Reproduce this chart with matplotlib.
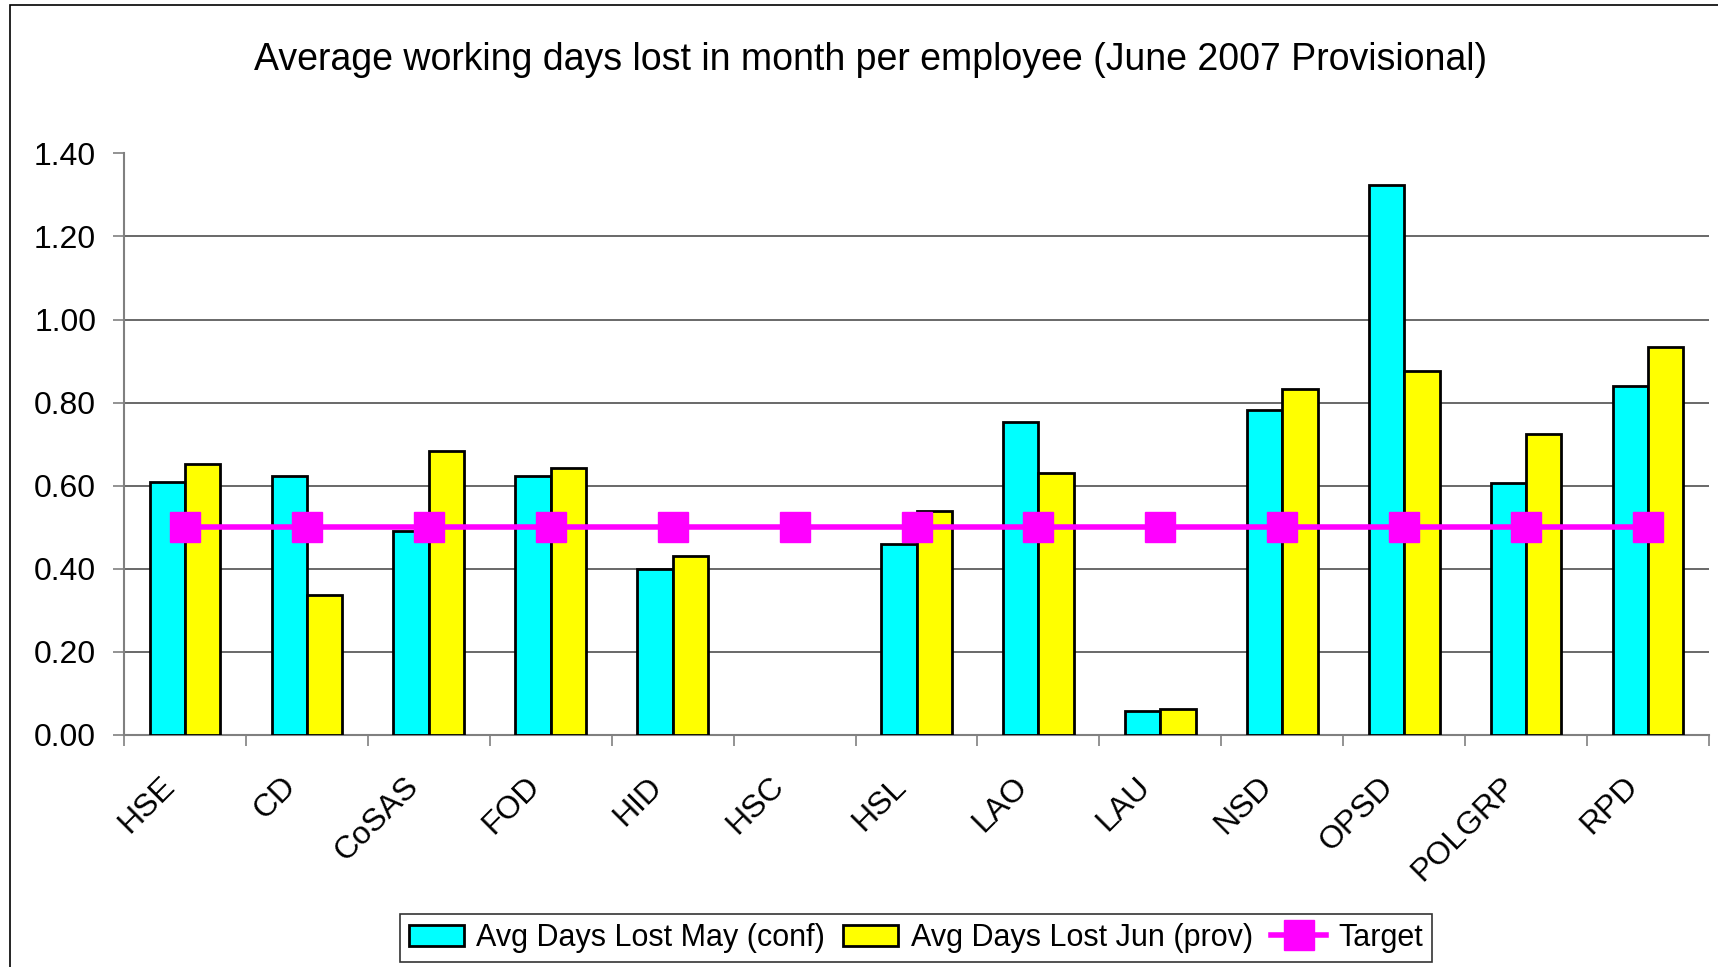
import numpy as np
import matplotlib
matplotlib.use('Agg')
import matplotlib.pyplot as plt
import matplotlib.transforms as mtransforms
from matplotlib.patches import Rectangle

plt.rcParams['font.family'] = ['Liberation Sans', 'DejaVu Sans']

# data
depts = ['HSE', 'CD', 'CoSAS', 'FOD', 'HID', 'HSC', 'HSL', 'LAO', 'LAU', 'NSD', 'OPSD', 'POLGRP', 'RPD']
may_conf = [0.61, 0.624, 0.49, 0.624, 0.399, np.nan, 0.46, 0.754, 0.058, 0.782, 1.323, 0.606, 0.84]
jun_prov = [0.653, 0.336, 0.683, 0.643, 0.432, np.nan, 0.539, 0.63, 0.062, 0.832, 0.876, 0.725, 0.933]
target = [0.5] * len(depts)
yticks = [0.0, 0.2, 0.4, 0.6, 0.8, 1.0, 1.2, 1.4]

fig = plt.figure(figsize=(17.18, 9.67), dpi=100)
# outer chart frame (only left/top visible in the original crop)
fig.patches.append(Rectangle((10/1718, -0.05), 1.2, (967-5)/967 + 0.05, transform=fig.transFigure,
                             fill=False, edgecolor='black', linewidth=1.2))

ax = fig.add_axes([124/1718, 232/967, (1709-124)/1718, (813.6-232)/967])

x = np.arange(len(depts))
w = 0.29
b1 = ax.bar(x - w/2, may_conf, w, color='#00FFFF', edgecolor='black', linewidth=2,
            label='Avg Days Lost May (conf)', zorder=3)
b2 = ax.bar(x + w/2, jun_prov, w, color='#FFFF00', edgecolor='black', linewidth=2,
            label='Avg Days Lost Jun (prov)', zorder=3)
ln, = ax.plot(x, target, color='#FF00FF', linewidth=4, marker='s', markersize=21,
              label='Target', zorder=4)

ax.set_xlim(-0.5, len(depts) - 0.5)
ax.set_ylim(0, 1.4)
ax.set_yticks(yticks)
ax.set_yticklabels(['%.2f' % v for v in yticks], fontsize=23)
ax.yaxis.grid(True, color='#404040', linewidth=1.1, zorder=0)
ax.yaxis.get_gridlines()[-1].set_visible(False)
ax.yaxis.get_gridlines()[0].set_visible(False)
ax.set_axisbelow(True)

# category labels, rotated, anchored a bit left of and below each category centre
ax.set_xticks(x)
ax.set_xticklabels([])
lbl_tr = ax.get_xaxis_transform() + mtransforms.ScaledTranslation(-0.15, -0.47, fig.dpi_scale_trans)
for xi, name in zip(x, depts):
    ax.text(xi, 0, name, transform=lbl_tr, fontsize=23, rotation=45, ha='right', va='center',
            rotation_mode='anchor')
ax.set_xticks(np.arange(len(depts) + 1) - 0.5, minor=True)
ax.tick_params(axis='x', which='major', length=0)
ax.tick_params(axis='x', which='minor', length=8, width=1.2, color='#808080', direction='out')
ax.tick_params(axis='y', length=8, width=1.2, color='#808080', pad=12)

for s in ['top', 'right']:
    ax.spines[s].set_visible(False)
for s in ['left', 'bottom']:
    ax.spines[s].set_color('#808080')
    ax.spines[s].set_linewidth(1.5)

fig.text(871/1718, 1 - 60/967, 'Average working days lost in month per employee (June 2007 Provisional)',
         ha='center', va='center', fontsize=27)

leg = fig.legend(handles=[b1, b2, ln], loc='center', bbox_to_anchor=(916/1718, 29/967), ncol=3,
                 fontsize=22, frameon=True, fancybox=False, edgecolor='black', handlelength=1.8,
                 handletextpad=0.4, columnspacing=0.6, borderpad=0.3)
leg.get_frame().set_linewidth(1.2)

fig.savefig('out.png', dpi=100)
